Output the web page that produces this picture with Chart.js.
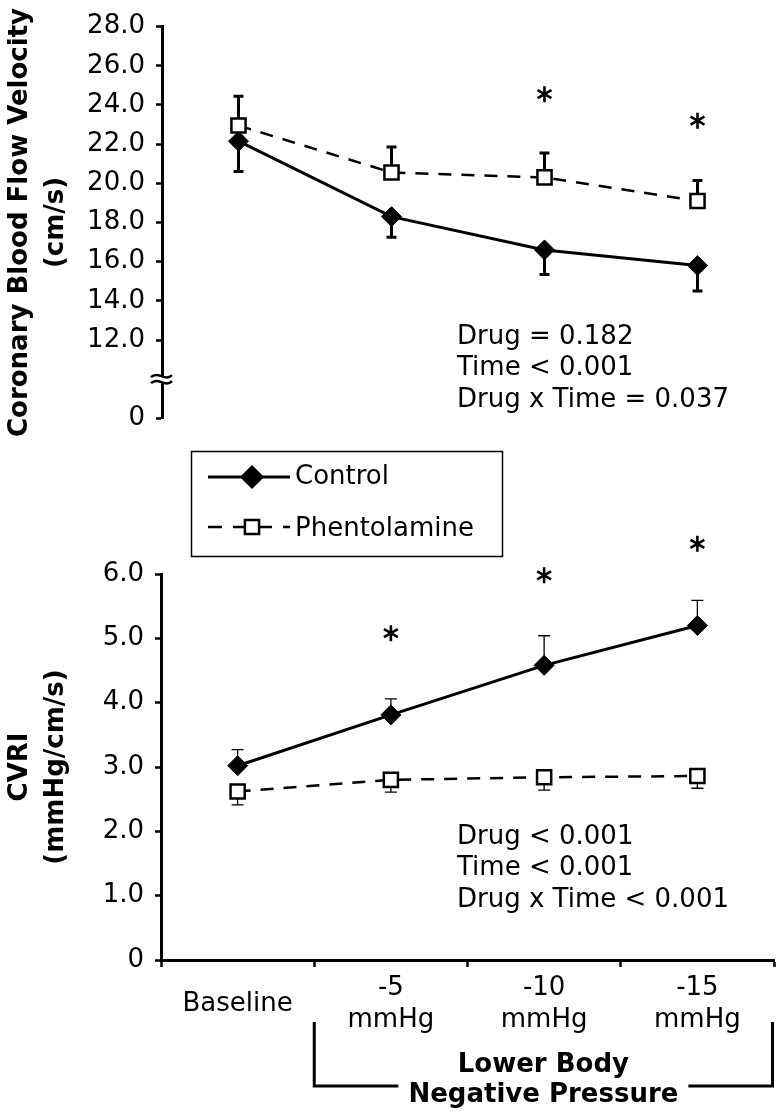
<!DOCTYPE html>
<html>
<head>
<meta charset="utf-8">
<script src="https://cdn.jsdelivr.net/npm/chart.js@4.4.1/dist/chart.umd.min.js"></script>
<style>
  html, body { margin: 0; padding: 0; background: #fff; }
  canvas { display: block; }
</style>
</head>
<body>
<canvas id="cbfvChart" width="777" height="445"></canvas>
<canvas id="cvriChart" width="777" height="668"></canvas>
<script>
const categories = ['Baseline', '-5 mmHg', '-10 mmHg', '-15 mmHg'];

// coronary blood flow velocity (cm/s)
const cbfvControl = [22.15, 18.3, 16.6, 15.8];
const cbfvControlErr = [1.55, 1.05, 1.25, 1.3];
const cbfvPhento = [22.95, 20.55, 20.3, 19.1];
const cbfvPhentoErr = [1.5, 1.3, 1.25, 1.05];
const cbfvStars = [null, null, 24.55, 23.2];
const cbfvStats = ['Drug = 0.182', 'Time < 0.001', 'Drug x Time = 0.037'];

// CVRI (mmHg/cm/s)
const cvriControl = [3.02, 3.81, 4.58, 5.2];
const cvriControlErr = [0.25, 0.25, 0.46, 0.39];
const cvriPhento = [2.62, 2.8, 2.84, 2.86];
const cvriPhentoErr = [0.21, 0.19, 0.2, 0.19];
const cvriStars = [null, 5.08, 5.98, 6.47];
const cvriStats = ['Drug < 0.001', 'Time < 0.001', 'Drug x Time < 0.001'];

const FONT = "'DejaVu Sans', sans-serif";
Chart.defaults.font.family = FONT;
Chart.defaults.color = '#000';

const errorBars = {
  id: 'errorBars',
  beforeDatasetsDraw(chart, args, opts) {
    const { ctx } = chart;
    const y = chart.scales.y;
    chart.data.datasets.forEach((ds, i) => {
      const meta = chart.getDatasetMeta(i);
      ctx.save();
      ctx.strokeStyle = '#000';
      ctx.lineWidth = opts.width;
      ds.errors.forEach((e, j) => {
        const x = meta.data[j].x;
        const y0 = y.getPixelForValue(ds.data[j]);
        const y1 = y.getPixelForValue(ds.data[j] + ds.errorDir * e);
        ctx.beginPath();
        ctx.moveTo(x, y0);
        ctx.lineTo(x, y1);
        ctx.moveTo(x - opts.cap / 2, y1);
        ctx.lineTo(x + opts.cap / 2, y1);
        ctx.stroke();
      });
      ctx.restore();
    });
  }
};

// six-armed asterisk marking p < 0.05 vs control
function drawStars(chart, stars) {
  const { ctx } = chart;
  const r = 8;
  ctx.save();
  ctx.strokeStyle = '#000';
  ctx.lineWidth = 2.6;
  stars.forEach((v, i) => {
    if (v == null) return;
    const x = chart.scales.x.getPixelForValue(i);
    const y = chart.scales.y.getPixelForValue(v);
    ctx.beginPath();
    [90, 30, 150].forEach((deg) => {
      const a = deg * Math.PI / 180;
      ctx.moveTo(x - r * Math.cos(a), y - r * Math.sin(a));
      ctx.lineTo(x + r * Math.cos(a), y + r * Math.sin(a));
    });
    ctx.stroke();
  });
  ctx.restore();
}

function drawStats(ctx, lines, x, y0, step) {
  ctx.save();
  ctx.font = '26px ' + FONT;
  ctx.textAlign = 'left';
  ctx.textBaseline = 'middle';
  ctx.fillStyle = '#000';
  lines.forEach((t, i) => ctx.fillText(t, x, y0 + i * step));
  ctx.restore();
}

const cbfvNotes = {
  id: 'cbfvNotes',
  afterDraw(chart) {
    const { ctx } = chart;
    const ys = chart.scales.y;
    // axis break between 12.0 and 0
    const xb = chart.chartArea.left;
    const yb = ys.getPixelForValue(10);
    ctx.save();
    ctx.fillStyle = '#fff';
    ctx.fillRect(xb - 4, yb - 3, 8, 6);
    ctx.strokeStyle = '#000';
    ctx.lineWidth = 2.4;
    [-3, 3].forEach((dy) => {
      ctx.beginPath();
      ctx.moveTo(xb - 11, yb + dy + 1);
      ctx.bezierCurveTo(xb - 4, yb + dy - 6, xb + 3, yb + dy + 6, xb + 10, yb + dy - 1);
      ctx.stroke();
    });
    ctx.restore();
    drawStars(chart, cbfvStars);
    drawStats(ctx, cbfvStats, 457, 337, 31.5);
  }
};

const cvriNotes = {
  id: 'cvriNotes',
  afterDraw(chart) {
    const { ctx } = chart;
    const xs = chart.scales.x;
    drawStars(chart, cvriStars);
    drawStats(ctx, cvriStats, 457, 392, 31.5);

    // legend
    ctx.save();
    ctx.strokeStyle = '#000';
    ctx.fillStyle = '#000';
    ctx.lineWidth = 1.5;
    ctx.strokeRect(191.5, 6.5, 311, 105);
    ctx.lineWidth = 3;
    ctx.beginPath();
    ctx.moveTo(208, 32);
    ctx.lineTo(290, 32);
    ctx.stroke();
    Chart.helpers.drawPoint(ctx, { pointStyle: 'rectRot', radius: 10, rotation: 0, borderWidth: 1 }, 252, 32);
    ctx.lineWidth = 2.5;
    ctx.beginPath();
    [[208, 222], [233, 272], [283, 290]].forEach(([a, b]) => { ctx.moveTo(a, 82); ctx.lineTo(b, 82); });
    ctx.stroke();
    ctx.fillStyle = '#fff';
    Chart.helpers.drawPoint(ctx, { pointStyle: 'rect', radius: 10, rotation: 0, borderWidth: 2.5 }, 252, 82);
    ctx.fillStyle = '#000';
    ctx.font = '26px ' + FONT;
    ctx.textAlign = 'left';
    ctx.textBaseline = 'middle';
    ctx.fillText('Control', 295, 32);
    ctx.fillText('Phentolamine', 295, 84);
    ctx.restore();

    // bracket under the LBNP levels
    const left = (xs.getPixelForValue(0) + xs.getPixelForValue(1)) / 2;
    const right = xs.right - 1.5;
    const mid = (left + right) / 2;
    ctx.save();
    ctx.font = 'bold 26px ' + FONT;
    const w = ctx.measureText('Negative Pressure').width;
    ctx.strokeStyle = '#000';
    ctx.lineWidth = 3;
    ctx.beginPath();
    ctx.moveTo(left, 577);
    ctx.lineTo(left, 641);
    ctx.lineTo(mid - w / 2 - 10, 641);
    ctx.moveTo(mid + w / 2 + 10, 641);
    ctx.lineTo(right, 641);
    ctx.lineTo(right, 577);
    ctx.stroke();
    ctx.fillStyle = '#000';
    ctx.textAlign = 'center';
    ctx.textBaseline = 'middle';
    ctx.fillText('Lower Body', mid, 620);
    ctx.fillText('Negative Pressure', mid, 650);
    ctx.restore();
  }
};

function controlSet(data, errors, dir) {
  return {
    label: 'Control', data, errors, errorDir: dir, order: 1,
    borderColor: '#000', borderWidth: 3, tension: 0,
    pointStyle: 'rectRot', pointRadius: 10, pointBackgroundColor: '#000',
    pointBorderColor: '#000', pointBorderWidth: 1
  };
}

function phentoSet(data, errors, dir) {
  return {
    label: 'Phentolamine', data, errors, errorDir: dir, order: 0,
    borderColor: '#000', borderWidth: 2.5, borderDash: [13, 10], tension: 0,
    pointStyle: 'rect', pointRadius: 10, pointBackgroundColor: '#fff',
    pointBorderColor: '#000', pointBorderWidth: 2.5
  };
}

function yAxis(min, max, step, title, width, fmt) {
  return {
    min, max,
    border: { display: true, color: '#000', width: 3 },
    grid: {
      drawOnChartArea: false, tickLength: 6, tickWidth: 2.5,
      tickColor: (c) => (c.tick && fmt(c.tick.value) === '') ? 'rgba(0,0,0,0)' : '#000'
    },
    ticks: { stepSize: step, padding: 11, color: '#000', font: { size: 26 }, callback: (v) => fmt(v) },
    title: { display: true, text: title, color: '#000', font: { size: 26, weight: 'bold', lineHeight: '36px' }, padding: { top: 2, bottom: 0 } },
    afterFit(scale) { scale.width = width; }
  };
}

new Chart(document.getElementById('cbfvChart'), {
  type: 'line',
  data: {
    labels: categories,
    datasets: [
      controlSet(cbfvControl, cbfvControlErr, -1),
      phentoSet(cbfvPhento, cbfvPhentoErr, 1)
    ]
  },
  options: {
    responsive: false, animation: false, devicePixelRatio: 1,
    layout: { autoPadding: false, padding: { top: 19, right: 3, bottom: 24, left: 0 } },
    plugins: { legend: { display: false }, tooltip: { enabled: false }, errorBars: { width: 3, cap: 10 } },
    scales: {
      x: { type: 'category', offset: true, display: false },
      y: yAxis(8, 28, 2, ['Coronary Blood Flow Velocity', '(cm/s)'], 162,
        (v) => v === 8 ? '0' : v === 10 ? '' : v.toFixed(1))
    }
  },
  plugins: [errorBars, cbfvNotes]
});

new Chart(document.getElementById('cvriChart'), {
  type: 'line',
  data: {
    labels: categories,
    datasets: [
      controlSet(cvriControl, cvriControlErr, 1),
      phentoSet(cvriPhento, cvriPhentoErr, -1)
    ]
  },
  options: {
    responsive: false, animation: false, devicePixelRatio: 1,
    layout: { autoPadding: false, padding: { top: 129, right: 3, bottom: 0, left: 0 } },
    plugins: { legend: { display: false }, tooltip: { enabled: false }, errorBars: { width: 1.3, cap: 12 } },
    scales: {
      x: {
        type: 'category', offset: true,
        border: { display: true, color: '#000', width: 3 },
        grid: { offset: true, drawOnChartArea: false, tickLength: 7, tickWidth: 2.5, color: '#000' },
        ticks: {
          autoSkip: false, maxRotation: 0, padding: 13, color: '#000',
          font: { size: 26, lineHeight: '16px' },
          callback: (v, i) => {
            const parts = categories[i].split(' ');
            return parts.length === 1 ? ['', parts[0], ''] : [parts[0], '', parts[1]];
          }
        },
        afterFit(scale) { scale.height = 153; }
      },
      y: yAxis(0, 6, 1, ['CVRI', '(mmHg/cm/s)'], 161, (v) => v === 0 ? '0' : v.toFixed(1))
    }
  },
  plugins: [errorBars, cvriNotes]
});
</script>
</body>
</html>
